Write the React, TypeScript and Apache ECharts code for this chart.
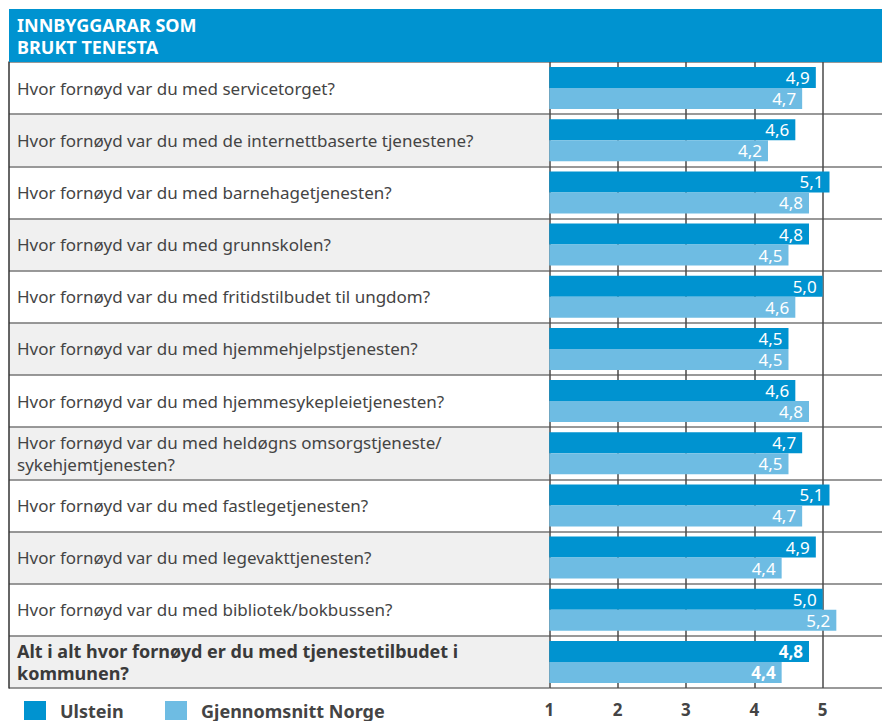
import React, { useEffect, useRef } from "react";
import * as echarts from "echarts";

const categories = [
  "Hvor fornøyd var du med servicetorget?",
  "Hvor fornøyd var du med de internettbaserte tjenestene?",
  "Hvor fornøyd var du med barnehagetjenesten?",
  "Hvor fornøyd var du med grunnskolen?",
  "Hvor fornøyd var du med fritidstilbudet til ungdom?",
  "Hvor fornøyd var du med hjemmehjelpstjenesten?",
  "Hvor fornøyd var du med hjemmesykepleietjenesten?",
  "Hvor fornøyd var du med heldøgns omsorgstjeneste/\nsykehjemtjenesten?",
  "Hvor fornøyd var du med fastlegetjenesten?",
  "Hvor fornøyd var du med legevakttjenesten?",
  "Hvor fornøyd var du med bibliotek/bokbussen?",
  "Alt i alt hvor fornøyd er du med tjenestetilbudet i\nkommunen?",
];
const ulstein = [4.9, 4.6, 5.1, 4.8, 5.0, 4.5, 4.6, 4.7, 5.1, 4.9, 5.0, 4.8];
const norge = [4.7, 4.2, 4.8, 4.5, 4.6, 4.5, 4.8, 4.5, 4.7, 4.4, 5.2, 4.4];
const seriesNames = ["Ulstein", "Gjennomsnitt Norge"];
const titleLines = ["INNBYGGARAR SOM", "BRUKT TENESTA"];
const boldIndex = categories.length - 1;

const FONT = "'Noto Sans', 'Open Sans', sans-serif";
const C_ULSTEIN = "#0093d0";
const C_NORGE = "#6ebce3";
const TEXT = "#444444";

export default function App() {
  const ref = useRef<HTMLDivElement>(null);
  useEffect(() => {
    if (!ref.current) return;
    const chart = echarts.init(ref.current, null, { renderer: "svg" });
    const fmt = (p: any) => Number(p.value).toFixed(1).replace(".", ",");
    const mk = (arr: number[]) =>
      arr.map((v, i) =>
        i === boldIndex ? { value: v, label: { fontWeight: "bold" } } : v
      );
    const barLabel = {
      show: true,
      position: "insideRight",
      distance: 6,
      color: "#ffffff",
      fontSize: 17,
      fontFamily: FONT,
      formatter: fmt,
    };
    const hLine = { show: true, lineStyle: { color: "#777777", width: 1.5 } };
    chart.setOption({
      animation: false,
      backgroundColor: "#ffffff",
      textStyle: { fontFamily: FONT },
      graphic: [
        {
          type: "rect",
          shape: { x: 9, y: 9, width: 873, height: 53 },
          style: { fill: C_ULSTEIN },
          z: 10,
        },
        ...titleLines.map((t, i) => ({
          type: "text",
          x: 17,
          y: 25 + i * 22,
          z: 11,
          style: {
            text: t,
            fill: "#ffffff",
            font: `bold 18px ${FONT}`,
            lineHeight: 20,
            verticalAlign: "middle",
          },
        })),
      ],
      legend: seriesNames.map((n, i) => ({
        data: [n],
        left: i === 0 ? 24 : 165,
        top: 701,
        padding: 0,
        itemWidth: 22,
        itemHeight: 19,
        icon: "rect",
        selectedMode: false,
        textStyle: {
          fontSize: 18,
          lineHeight: 18,
          fontWeight: "bold",
          color: TEXT,
          fontFamily: FONT,
          padding: [0, 0, 0, 9],
        },
      })),
      grid: [
        { left: 9, top: 62, width: 540.3, height: 626, outerBoundsMode: "none", containLabel: false },
        { left: 549.3, top: 62, width: 341.7, height: 626, outerBoundsMode: "none", containLabel: false },
      ],
      xAxis: [
        { gridIndex: 0, type: "value", show: false, min: 0, max: 1 },
        {
          gridIndex: 1,
          type: "value",
          min: 1,
          max: 6,
          interval: 1,
          axisLine: { show: false },
          axisTick: { show: false },
          splitLine: { show: true, lineStyle: { color: "#4a4a4a", width: 1.5 } },
          axisLabel: {
            fontSize: 17,
            lineHeight: 17,
            fontWeight: "bold",
            color: TEXT,
            margin: 13,
            fontFamily: FONT,
            showMaxLabel: false,
          },
        },
      ],
      yAxis: [
        {
          gridIndex: 0,
          type: "category",
          data: categories,
          inverse: true,
          axisLine: { show: true, lineStyle: { color: "#333333", width: 1.5 } },
          axisTick: { show: false },
          axisLabel: {
            inside: true,
            margin: 8,
            interval: 0,
            align: "left",
            formatter: (v: string, idx: number) => {
              const style = idx === boldIndex ? "b" : "n";
              return v
                .split("\n")
                .map((s) => `{${style}|${s}}`)
                .join("\n");
            },
            rich: {
              n: { fontSize: 17, color: TEXT, fontFamily: FONT, lineHeight: 22 },
              b: {
                fontSize: 18,
                color: "#3a3a3a",
                fontWeight: "bold",
                fontFamily: FONT,
                lineHeight: 22,
              },
            },
          },
          splitLine: hLine,
          splitArea: {
            show: true,
            areaStyle: { color: ["#ffffff", "#f0f0f0"] },
          },
        },
        {
          gridIndex: 1,
          type: "category",
          data: categories,
          inverse: true,
          axisLine: { show: false },
          axisTick: { show: false },
          axisLabel: { show: false },
          splitLine: hLine,
        },
      ],
      series: [
        {
          name: seriesNames[0],
          type: "bar",
          xAxisIndex: 1,
          yAxisIndex: 1,
          data: mk(ulstein),
          barWidth: 21,
          barGap: "0%",
          itemStyle: { color: C_ULSTEIN },
          label: barLabel,
        },
        {
          name: seriesNames[1],
          type: "bar",
          xAxisIndex: 1,
          yAxisIndex: 1,
          data: mk(norge),
          barWidth: 21,
          barGap: "0%",
          itemStyle: { color: C_NORGE },
          label: barLabel,
        },
      ],
    });
    return () => chart.dispose();
  }, []);
  return (
    <div
      ref={ref}
      style={{ position: "absolute", left: 0, top: 0, width: 882, height: 721 }}
    />
  );
}
